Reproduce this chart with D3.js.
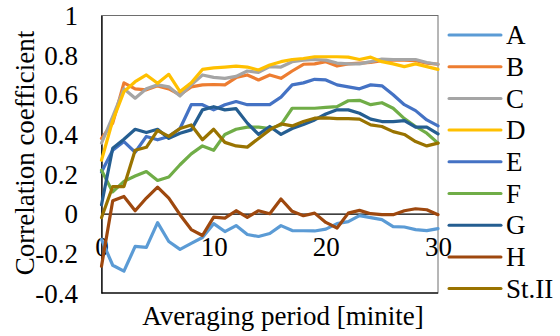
<!DOCTYPE html>
<html><head><meta charset="utf-8">
<script src="https://cdn.jsdelivr.net/npm/d3@7"></script>
<style>
html,body{margin:0;padding:0;background:#fff;}
</style></head>
<body><svg id="c" width="560" height="336"></svg>
<script>
const minutes = d3.range(0, 31);
const seriesNames = ["A","B","C","D","E","F","G","H","St.II"];
const seriesColors = ["#5B9BD5","#ED7D31","#A5A5A5","#FFC000","#4472C4","#70AD47","#255E91","#9E480E","#997300"];
const A = [-0.13,-0.26,-0.29,-0.165,-0.17,-0.045,-0.14,-0.18,-0.15,-0.12,-0.05,-0.09,-0.06,-0.105,-0.115,-0.10,-0.06,-0.085,-0.086,-0.087,-0.078,-0.05,-0.04,-0.01,-0.02,-0.03,-0.065,-0.067,-0.08,-0.085,-0.075];
const B = [0.38,0.457,0.66,0.63,0.625,0.645,0.63,0.60,0.64,0.65,0.652,0.65,0.687,0.70,0.675,0.70,0.683,0.72,0.754,0.756,0.767,0.745,0.756,0.76,0.763,0.772,0.775,0.775,0.772,0.76,0.754];
const C = [0.356,0.49,0.63,0.583,0.63,0.65,0.64,0.594,0.65,0.70,0.688,0.683,0.693,0.72,0.713,0.742,0.74,0.767,0.775,0.778,0.775,0.76,0.756,0.756,0.767,0.78,0.778,0.778,0.778,0.763,0.754];
const D = [0.27,0.47,0.616,0.666,0.70,0.658,0.703,0.616,0.661,0.728,0.736,0.74,0.745,0.74,0.725,0.75,0.767,0.778,0.783,0.792,0.792,0.792,0.79,0.778,0.79,0.767,0.756,0.742,0.756,0.742,0.728];
const E = [0.21,0.32,0.364,0.31,0.39,0.373,0.39,0.43,0.55,0.55,0.524,0.55,0.566,0.55,0.55,0.55,0.588,0.65,0.66,0.678,0.675,0.65,0.64,0.63,0.65,0.645,0.60,0.55,0.52,0.473,0.443];
const F = [0.22,0.11,0.163,0.19,0.213,0.168,0.185,0.247,0.302,0.342,0.32,0.40,0.426,0.437,0.437,0.43,0.448,0.532,0.532,0.532,0.536,0.54,0.57,0.572,0.55,0.56,0.532,0.48,0.44,0.406,0.356];
const G = [0.045,0.33,0.376,0.426,0.41,0.426,0.38,0.406,0.423,0.524,0.54,0.524,0.53,0.457,0.40,0.44,0.40,0.43,0.45,0.473,0.503,0.524,0.524,0.507,0.477,0.465,0.465,0.47,0.437,0.437,0.403];
const H = [-0.265,0.065,0.087,0.015,0.079,0.134,0.079,-0.005,-0.08,-0.11,-0.017,-0.022,0.015,-0.018,0.015,0.0,0.074,0.012,-0.01,0.003,-0.044,-0.072,0.003,0.017,0.0,-0.005,-0.005,0.015,0.025,0.02,-0.005];
const StII = [-0.02,0.137,0.137,0.32,0.335,0.42,0.39,0.43,0.448,0.373,0.426,0.36,0.342,0.336,0.38,0.423,0.453,0.443,0.465,0.482,0.484,0.48,0.48,0.477,0.448,0.44,0.414,0.40,0.364,0.342,0.356];
const seriesValues = [A,B,C,D,E,F,G,H,StII];
const yTicks = [-0.4,-0.2,0,0.2,0.4,0.6,0.8,1];
const xTicks = [0,10,20,30];
const xTitle = "Averaging period [minite]";
const yTitle = "Correlation coefficient";

const FONT = "'Liberation Serif', 'Times New Roman', 'DejaVu Serif', serif";
const FS = 27;
const svg = d3.select("#c");
const x = d3.scaleLinear().domain([0,30]).range([101.5,438]);
const y = d3.scaleLinear().domain([-0.4,1]).range([293,15.5]);

function styleText(sel){ return sel.style("font-family",FONT).style("font-size",FS+"px").attr("fill","#000"); }

// plot frame
svg.append("rect").attr("x",x(0)).attr("y",y(1)).attr("width",x(30)-x(0)).attr("height",y(-0.4)-y(1))
  .attr("fill","none").attr("stroke","#6e6e6e").attr("stroke-width",1);
svg.append("line").attr("x1",x(0)).attr("x2",x(30)).attr("y1",y(-0.4)).attr("y2",y(-0.4)).attr("stroke","#222").attr("stroke-width",1.3);

// y axis
const yAxis = d3.axisLeft(y).tickValues(yTicks).tickSize(0).tickPadding(23.5)
  .tickFormat(d => String(+d.toFixed(1)));
const yg = svg.append("g").attr("transform",`translate(${x(0)},0)`).call(yAxis);
yg.attr("font-family",null).attr("font-size",null);
yg.select(".domain").attr("stroke","#000").attr("stroke-width",1.3);
styleText(yg.selectAll("text")).attr("dy","0.34em");

// x axis at y=0
const xAxis = d3.axisBottom(x).tickValues(xTicks).tickSize(0).tickFormat(d3.format("d"));
const xg = svg.append("g").attr("transform",`translate(0,${y(0)})`).call(xAxis);
xg.attr("font-family",null).attr("font-size",null);
xg.select(".domain").attr("stroke","#000").attr("stroke-width",1.3);
styleText(xg.selectAll("text")).attr("y",42).attr("dy",0);

// lines
const line = d3.line().x((d,i)=>x(minutes[i])).y(d=>y(d));
seriesValues.forEach((vals,k)=>{
  svg.append("path").datum(vals).attr("d",line).attr("fill","none")
    .attr("stroke",seriesColors[k]).attr("stroke-width",3.2).attr("stroke-linejoin","round").attr("stroke-linecap","round");
});

// titles
styleText(svg.append("text").attr("x",283).attr("y",325).attr("text-anchor","middle")).text(xTitle);
styleText(svg.append("text").attr("transform","translate(34,153) rotate(-90)").attr("text-anchor","middle")).text(yTitle);

// legend
const leg = svg.append("g");
seriesNames.forEach((n,k)=>{
  const ly = 35 + k*31.7;
  leg.append("line").attr("x1",449).attr("x2",501).attr("y1",ly).attr("y2",ly)
    .attr("stroke",seriesColors[k]).attr("stroke-width",3).attr("stroke-linecap","round");
  styleText(leg.append("text").attr("x",506).attr("y",ly).attr("dy","0.34em")).text(n);
});
</script></body></html>
